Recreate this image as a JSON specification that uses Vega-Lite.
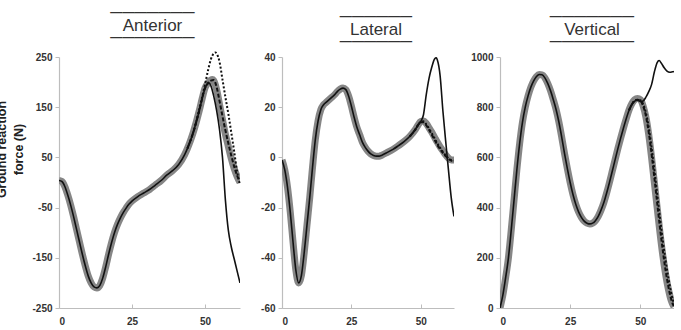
{
  "$schema": "https://vega.github.io/schema/vega-lite/v6.json",
  "padding": {"left": -5, "top": 4, "right": 0, "bottom": 2},
  "spacing": 16,
  "datasets": {
    "ant": [
      {"s":"measured","t":0,"v":4},{"s":"measured","t":1,"v":2},{"s":"measured","t":2,"v":-8},{"s":"measured","t":3,"v":-25},{"s":"measured","t":4,"v":-45},{"s":"measured","t":5,"v":-68},{"s":"measured","t":6,"v":-93},{"s":"measured","t":7,"v":-118},{"s":"measured","t":8,"v":-143},{"s":"measured","t":9,"v":-166},{"s":"measured","t":10,"v":-186},{"s":"measured","t":11,"v":-200},{"s":"measured","t":12,"v":-208},{"s":"measured","t":13,"v":-210},{"s":"measured","t":14,"v":-205},{"s":"measured","t":15,"v":-190},{"s":"measured","t":16,"v":-168},{"s":"measured","t":17,"v":-143},{"s":"measured","t":18,"v":-120},{"s":"measured","t":19,"v":-100},{"s":"measured","t":20,"v":-84},{"s":"measured","t":21,"v":-71},{"s":"measured","t":22,"v":-60},{"s":"measured","t":23,"v":-51},{"s":"measured","t":24,"v":-43},{"s":"measured","t":25,"v":-37},{"s":"measured","t":27,"v":-28},{"s":"measured","t":29,"v":-21},{"s":"measured","t":31,"v":-14},{"s":"measured","t":33,"v":-5},{"s":"measured","t":35,"v":4},{"s":"measured","t":37,"v":15},{"s":"measured","t":39,"v":24},{"s":"measured","t":41,"v":36},{"s":"measured","t":43,"v":55},{"s":"measured","t":44,"v":68},{"s":"measured","t":45,"v":83},{"s":"measured","t":46,"v":100},{"s":"measured","t":47,"v":120},{"s":"measured","t":48,"v":142},{"s":"measured","t":49,"v":166},{"s":"measured","t":50,"v":188},{"s":"measured","t":51,"v":198},{"s":"measured","t":52,"v":204},{"s":"measured","t":52.5,"v":205},{"s":"measured","t":53,"v":203},{"s":"measured","t":54,"v":185},{"s":"measured","t":55,"v":155},{"s":"measured","t":56,"v":125},{"s":"measured","t":57,"v":96},{"s":"measured","t":58,"v":72},{"s":"measured","t":59,"v":48},{"s":"measured","t":60,"v":28},{"s":"measured","t":61,"v":12},{"s":"measured","t":62,"v":0},
      {"s":"solid","t":0,"v":4},{"s":"solid","t":1,"v":2},{"s":"solid","t":2,"v":-8},{"s":"solid","t":3,"v":-25},{"s":"solid","t":4,"v":-45},{"s":"solid","t":5,"v":-68},{"s":"solid","t":6,"v":-93},{"s":"solid","t":7,"v":-118},{"s":"solid","t":8,"v":-143},{"s":"solid","t":9,"v":-166},{"s":"solid","t":10,"v":-186},{"s":"solid","t":11,"v":-200},{"s":"solid","t":12,"v":-208},{"s":"solid","t":13,"v":-210},{"s":"solid","t":14,"v":-205},{"s":"solid","t":15,"v":-190},{"s":"solid","t":16,"v":-168},{"s":"solid","t":17,"v":-143},{"s":"solid","t":18,"v":-120},{"s":"solid","t":19,"v":-100},{"s":"solid","t":20,"v":-84},{"s":"solid","t":21,"v":-71},{"s":"solid","t":22,"v":-60},{"s":"solid","t":23,"v":-51},{"s":"solid","t":24,"v":-43},{"s":"solid","t":25,"v":-37},{"s":"solid","t":27,"v":-28},{"s":"solid","t":29,"v":-21},{"s":"solid","t":31,"v":-14},{"s":"solid","t":33,"v":-5},{"s":"solid","t":35,"v":4},{"s":"solid","t":37,"v":15},{"s":"solid","t":39,"v":24},{"s":"solid","t":41,"v":36},{"s":"solid","t":43,"v":55},{"s":"solid","t":44,"v":68},{"s":"solid","t":45,"v":83},{"s":"solid","t":46,"v":100},{"s":"solid","t":47,"v":120},{"s":"solid","t":48,"v":142},{"s":"solid","t":49,"v":166},{"s":"solid","t":50,"v":187},{"s":"solid","t":51,"v":197},{"s":"solid","t":51.5,"v":198},{"s":"solid","t":52,"v":193},{"s":"solid","t":53,"v":172},{"s":"solid","t":54,"v":143},{"s":"solid","t":55,"v":105},{"s":"solid","t":56,"v":50},{"s":"solid","t":57,"v":-35},{"s":"solid","t":58,"v":-95},{"s":"solid","t":59,"v":-128},{"s":"solid","t":60,"v":-152},{"s":"solid","t":61,"v":-176},{"s":"solid","t":62,"v":-200},
      {"s":"dashed","t":44,"v":68},{"s":"dashed","t":46,"v":100},{"s":"dashed","t":48,"v":142},{"s":"dashed","t":50,"v":188},{"s":"dashed","t":51,"v":198},{"s":"dashed","t":52,"v":203},{"s":"dashed","t":53,"v":204},{"s":"dashed","t":54,"v":190},{"s":"dashed","t":55,"v":162},{"s":"dashed","t":56,"v":132},{"s":"dashed","t":57,"v":104},{"s":"dashed","t":58,"v":78},{"s":"dashed","t":59,"v":54},{"s":"dashed","t":60,"v":32},{"s":"dashed","t":61,"v":14},{"s":"dashed","t":62,"v":2},
      {"s":"dotted","t":44,"v":68},{"s":"dotted","t":46,"v":100},{"s":"dotted","t":48,"v":145},{"s":"dotted","t":50,"v":195},{"s":"dotted","t":51,"v":222},{"s":"dotted","t":52,"v":245},{"s":"dotted","t":53,"v":257},{"s":"dotted","t":53.5,"v":259},{"s":"dotted","t":54,"v":257},{"s":"dotted","t":55,"v":240},{"s":"dotted","t":56,"v":205},{"s":"dotted","t":57,"v":170},{"s":"dotted","t":58,"v":137},{"s":"dotted","t":59,"v":100},{"s":"dotted","t":60,"v":62},{"s":"dotted","t":61,"v":22},{"s":"dotted","t":62,"v":-5}
    ],
    "lat": [
      {"s":"measured","t":0,"v":-1},{"s":"measured","t":1,"v":-5},{"s":"measured","t":2,"v":-12},{"s":"measured","t":3,"v":-22},{"s":"measured","t":4,"v":-34},{"s":"measured","t":5,"v":-45},{"s":"measured","t":6,"v":-50},{"s":"measured","t":7,"v":-47},{"s":"measured","t":8,"v":-38},{"s":"measured","t":9,"v":-27},{"s":"measured","t":10,"v":-16},{"s":"measured","t":11,"v":-4},{"s":"measured","t":12,"v":7},{"s":"measured","t":13,"v":14.5},{"s":"measured","t":14,"v":19},{"s":"measured","t":15,"v":21},{"s":"measured","t":16,"v":22},{"s":"measured","t":17,"v":23},{"s":"measured","t":18,"v":24},{"s":"measured","t":19,"v":25},{"s":"measured","t":20,"v":26.3},{"s":"measured","t":21,"v":27.2},{"s":"measured","t":22,"v":27.6},{"s":"measured","t":23,"v":27},{"s":"measured","t":24,"v":24.5},{"s":"measured","t":25,"v":20.5},{"s":"measured","t":26,"v":16},{"s":"measured","t":27,"v":12},{"s":"measured","t":28,"v":9},{"s":"measured","t":29,"v":6},{"s":"measured","t":30,"v":4},{"s":"measured","t":31,"v":2.5},{"s":"measured","t":32,"v":1.4},{"s":"measured","t":33,"v":0.8},{"s":"measured","t":34,"v":0.5},{"s":"measured","t":35,"v":0.5},{"s":"measured","t":36,"v":0.9},{"s":"measured","t":38,"v":2},{"s":"measured","t":40,"v":3.2},{"s":"measured","t":42,"v":4.7},{"s":"measured","t":44,"v":6.3},{"s":"measured","t":46,"v":8.3},{"s":"measured","t":48,"v":11},{"s":"measured","t":49,"v":12.8},{"s":"measured","t":50,"v":14.3},{"s":"measured","t":51,"v":14.5},{"s":"measured","t":52,"v":13.5},{"s":"measured","t":53,"v":11.8},{"s":"measured","t":54,"v":10},{"s":"measured","t":55,"v":8},{"s":"measured","t":56,"v":6},{"s":"measured","t":57,"v":4.2},{"s":"measured","t":58,"v":2.6},{"s":"measured","t":59,"v":1},{"s":"measured","t":60,"v":-0.3},{"s":"measured","t":61,"v":-1},{"s":"measured","t":62,"v":-1},
      {"s":"solid","t":0,"v":-1},{"s":"solid","t":1,"v":-5},{"s":"solid","t":2,"v":-12},{"s":"solid","t":3,"v":-22},{"s":"solid","t":4,"v":-34},{"s":"solid","t":5,"v":-45},{"s":"solid","t":6,"v":-50},{"s":"solid","t":7,"v":-47},{"s":"solid","t":8,"v":-38},{"s":"solid","t":9,"v":-27},{"s":"solid","t":10,"v":-16},{"s":"solid","t":11,"v":-4},{"s":"solid","t":12,"v":7},{"s":"solid","t":13,"v":14.5},{"s":"solid","t":14,"v":19},{"s":"solid","t":15,"v":21},{"s":"solid","t":16,"v":22},{"s":"solid","t":17,"v":23},{"s":"solid","t":18,"v":24},{"s":"solid","t":19,"v":25},{"s":"solid","t":20,"v":26.3},{"s":"solid","t":21,"v":27.2},{"s":"solid","t":22,"v":27.6},{"s":"solid","t":23,"v":27},{"s":"solid","t":24,"v":24.5},{"s":"solid","t":25,"v":20.5},{"s":"solid","t":26,"v":16},{"s":"solid","t":27,"v":12},{"s":"solid","t":28,"v":9},{"s":"solid","t":29,"v":6},{"s":"solid","t":30,"v":4},{"s":"solid","t":31,"v":2.5},{"s":"solid","t":32,"v":1.4},{"s":"solid","t":33,"v":0.8},{"s":"solid","t":34,"v":0.5},{"s":"solid","t":35,"v":0.5},{"s":"solid","t":36,"v":0.9},{"s":"solid","t":38,"v":2},{"s":"solid","t":40,"v":3.2},{"s":"solid","t":42,"v":4.7},{"s":"solid","t":44,"v":6.3},{"s":"solid","t":46,"v":8.3},{"s":"solid","t":48,"v":11},{"s":"solid","t":49,"v":12.8},{"s":"solid","t":50,"v":14.3},{"s":"solid","t":51,"v":17},{"s":"solid","t":52,"v":25},{"s":"solid","t":53,"v":31.5},{"s":"solid","t":54,"v":36},{"s":"solid","t":55,"v":39.2},{"s":"solid","t":55.6,"v":39.7},{"s":"solid","t":56,"v":38.8},{"s":"solid","t":57,"v":32.5},{"s":"solid","t":58,"v":18.5},{"s":"solid","t":59,"v":6.5},{"s":"solid","t":60,"v":-5},{"s":"solid","t":61,"v":-16},{"s":"solid","t":62,"v":-23.5},
      {"s":"dashed","t":46,"v":8.3},{"s":"dashed","t":48,"v":11},{"s":"dashed","t":50,"v":14},{"s":"dashed","t":51,"v":14},{"s":"dashed","t":52,"v":12.8},{"s":"dashed","t":53,"v":11},{"s":"dashed","t":54,"v":9},{"s":"dashed","t":55,"v":7},{"s":"dashed","t":56,"v":5},{"s":"dashed","t":57,"v":3.3},{"s":"dashed","t":58,"v":1.8},{"s":"dashed","t":59,"v":0.5},{"s":"dashed","t":60,"v":-0.5},{"s":"dashed","t":61,"v":-1.3},{"s":"dashed","t":62,"v":-1.5},
      {"s":"dotted","t":46,"v":8.3},{"s":"dotted","t":48,"v":11},{"s":"dotted","t":50,"v":14.2},{"s":"dotted","t":51,"v":14.4},{"s":"dotted","t":52,"v":13.2},{"s":"dotted","t":53,"v":11.5},{"s":"dotted","t":54,"v":9.6},{"s":"dotted","t":55,"v":7.6},{"s":"dotted","t":56,"v":5.6},{"s":"dotted","t":57,"v":3.8},{"s":"dotted","t":58,"v":2.2},{"s":"dotted","t":59,"v":0.8},{"s":"dotted","t":60,"v":-0.3},{"s":"dotted","t":61,"v":-1},{"s":"dotted","t":62,"v":-1.2}
    ],
    "ver": [
      {"s":"measured","t":0,"v":0},{"s":"measured","t":1,"v":50},{"s":"measured","t":2,"v":120},{"s":"measured","t":3,"v":200},{"s":"measured","t":4,"v":310},{"s":"measured","t":5,"v":430},{"s":"measured","t":6,"v":550},{"s":"measured","t":7,"v":655},{"s":"measured","t":8,"v":740},{"s":"measured","t":9,"v":800},{"s":"measured","t":10,"v":845},{"s":"measured","t":11,"v":880},{"s":"measured","t":12,"v":905},{"s":"measured","t":13,"v":922},{"s":"measured","t":14,"v":930},{"s":"measured","t":15,"v":929},{"s":"measured","t":16,"v":917},{"s":"measured","t":17,"v":895},{"s":"measured","t":18,"v":866},{"s":"measured","t":19,"v":830},{"s":"measured","t":20,"v":790},{"s":"measured","t":21,"v":740},{"s":"measured","t":22,"v":680},{"s":"measured","t":23,"v":615},{"s":"measured","t":24,"v":555},{"s":"measured","t":25,"v":500},{"s":"measured","t":26,"v":452},{"s":"measured","t":27,"v":413},{"s":"measured","t":28,"v":383},{"s":"measured","t":29,"v":361},{"s":"measured","t":30,"v":346},{"s":"measured","t":31,"v":338},{"s":"measured","t":32,"v":335},{"s":"measured","t":33,"v":338},{"s":"measured","t":34,"v":348},{"s":"measured","t":35,"v":365},{"s":"measured","t":36,"v":390},{"s":"measured","t":37,"v":420},{"s":"measured","t":38,"v":458},{"s":"measured","t":39,"v":500},{"s":"measured","t":40,"v":545},{"s":"measured","t":41,"v":590},{"s":"measured","t":42,"v":635},{"s":"measured","t":43,"v":677},{"s":"measured","t":44,"v":717},{"s":"measured","t":45,"v":755},{"s":"measured","t":46,"v":790},{"s":"measured","t":47,"v":815},{"s":"measured","t":48,"v":830},{"s":"measured","t":49,"v":835},{"s":"measured","t":50,"v":830},{"s":"measured","t":51,"v":805},{"s":"measured","t":52,"v":760},{"s":"measured","t":53,"v":690},{"s":"measured","t":54,"v":600},{"s":"measured","t":55,"v":500},{"s":"measured","t":56,"v":400},{"s":"measured","t":57,"v":300},{"s":"measured","t":58,"v":210},{"s":"measured","t":59,"v":135},{"s":"measured","t":60,"v":75},{"s":"measured","t":61,"v":30},{"s":"measured","t":62,"v":5},
      {"s":"solid","t":0,"v":0},{"s":"solid","t":1,"v":50},{"s":"solid","t":2,"v":120},{"s":"solid","t":3,"v":200},{"s":"solid","t":4,"v":310},{"s":"solid","t":5,"v":430},{"s":"solid","t":6,"v":550},{"s":"solid","t":7,"v":655},{"s":"solid","t":8,"v":740},{"s":"solid","t":9,"v":800},{"s":"solid","t":10,"v":845},{"s":"solid","t":11,"v":880},{"s":"solid","t":12,"v":905},{"s":"solid","t":13,"v":922},{"s":"solid","t":14,"v":930},{"s":"solid","t":15,"v":929},{"s":"solid","t":16,"v":917},{"s":"solid","t":17,"v":895},{"s":"solid","t":18,"v":866},{"s":"solid","t":19,"v":830},{"s":"solid","t":20,"v":790},{"s":"solid","t":21,"v":740},{"s":"solid","t":22,"v":680},{"s":"solid","t":23,"v":615},{"s":"solid","t":24,"v":555},{"s":"solid","t":25,"v":500},{"s":"solid","t":26,"v":452},{"s":"solid","t":27,"v":413},{"s":"solid","t":28,"v":383},{"s":"solid","t":29,"v":361},{"s":"solid","t":30,"v":346},{"s":"solid","t":31,"v":338},{"s":"solid","t":32,"v":335},{"s":"solid","t":33,"v":338},{"s":"solid","t":34,"v":348},{"s":"solid","t":35,"v":365},{"s":"solid","t":36,"v":390},{"s":"solid","t":37,"v":420},{"s":"solid","t":38,"v":458},{"s":"solid","t":39,"v":500},{"s":"solid","t":40,"v":545},{"s":"solid","t":41,"v":590},{"s":"solid","t":42,"v":635},{"s":"solid","t":43,"v":677},{"s":"solid","t":44,"v":717},{"s":"solid","t":45,"v":755},{"s":"solid","t":46,"v":788},{"s":"solid","t":47,"v":810},{"s":"solid","t":48,"v":824},{"s":"solid","t":49,"v":828},{"s":"solid","t":50,"v":823},{"s":"solid","t":51,"v":825},{"s":"solid","t":52,"v":840},{"s":"solid","t":53,"v":862},{"s":"solid","t":54,"v":890},{"s":"solid","t":55,"v":940},{"s":"solid","t":56,"v":978},{"s":"solid","t":56.7,"v":986},{"s":"solid","t":57.5,"v":975},{"s":"solid","t":58.5,"v":957},{"s":"solid","t":59.5,"v":944},{"s":"solid","t":60.5,"v":939},{"s":"solid","t":61.5,"v":941},{"s":"solid","t":62,"v":942},
      {"s":"dashed","t":46,"v":788},{"s":"dashed","t":47,"v":812},{"s":"dashed","t":48,"v":826},{"s":"dashed","t":49,"v":830},{"s":"dashed","t":50,"v":826},{"s":"dashed","t":51,"v":805},{"s":"dashed","t":52,"v":765},{"s":"dashed","t":53,"v":700},{"s":"dashed","t":54,"v":615},{"s":"dashed","t":55,"v":520},{"s":"dashed","t":56,"v":420},{"s":"dashed","t":57,"v":320},{"s":"dashed","t":58,"v":230},{"s":"dashed","t":59,"v":150},{"s":"dashed","t":60,"v":85},{"s":"dashed","t":61,"v":35},{"s":"dashed","t":62,"v":5},
      {"s":"dotted","t":46,"v":788},{"s":"dotted","t":47,"v":812},{"s":"dotted","t":48,"v":826},{"s":"dotted","t":49,"v":830},{"s":"dotted","t":50,"v":828},{"s":"dotted","t":51,"v":812},{"s":"dotted","t":52,"v":778},{"s":"dotted","t":53,"v":720},{"s":"dotted","t":54,"v":640},{"s":"dotted","t":55,"v":550},{"s":"dotted","t":56,"v":455},{"s":"dotted","t":57,"v":360},{"s":"dotted","t":58,"v":270},{"s":"dotted","t":59,"v":190},{"s":"dotted","t":60,"v":120},{"s":"dotted","t":61,"v":60},{"s":"dotted","t":62,"v":15}
    ]
  },
  "hconcat": [
    {
      "width": 181, "height": 251,
      "title": {"text": ["───────", "Anterior", "───────"], "dx": 3},
      "data": {"name": "ant"},
      "encoding": {
        "x": {"field": "t", "type": "quantitative", "scale": {"domain": [0, 62], "nice": false}, "axis": {"values": [0, 25, 50], "title": null}},
        "y": {"field": "v", "type": "quantitative", "scale": {"domain": [-250, 250], "nice": false}, "axis": {"values": [-250, -150, -50, 50, 150, 250], "title": ["Ground reaction", "force (N)"], "titleY": 92}}
      },
      "layer": [
        {"transform": [{"filter": "datum.s === 'measured'"}], "mark": {"type": "line", "color": "#868686", "strokeWidth": 7, "interpolate": "monotone", "clip": true}},
        {"transform": [{"filter": "datum.s === 'dotted'"}], "mark": {"type": "line", "color": "#111111", "strokeWidth": 2, "strokeDash": [2, 2], "interpolate": "monotone"}},
        {"transform": [{"filter": "datum.s === 'dashed'"}], "mark": {"type": "line", "color": "#111111", "strokeWidth": 2, "strokeDash": [4, 2], "interpolate": "monotone", "clip": true}},
        {"transform": [{"filter": "datum.s === 'solid'"}], "mark": {"type": "line", "color": "#111111", "strokeWidth": 1.6, "interpolate": "monotone", "clip": true}}
      ]
    },
    {
      "width": 172, "height": 251,
      "title": {"text": ["──────", "Lateral", "──────"], "dx": 8},
      "data": {"name": "lat"},
      "encoding": {
        "x": {"field": "t", "type": "quantitative", "scale": {"domain": [0, 62], "nice": false}, "axis": {"values": [0, 25, 50], "title": null}},
        "y": {"field": "v", "type": "quantitative", "scale": {"domain": [-60, 40], "nice": false}, "axis": {"values": [-60, -40, -20, 0, 20, 40], "title": null}}
      },
      "layer": [
        {"transform": [{"filter": "datum.s === 'measured'"}], "mark": {"type": "line", "color": "#868686", "strokeWidth": 7, "interpolate": "monotone", "clip": true}},
        {"transform": [{"filter": "datum.s === 'dotted'"}], "mark": {"type": "line", "color": "#111111", "strokeWidth": 2, "strokeDash": [2, 2], "interpolate": "monotone", "clip": true}},
        {"transform": [{"filter": "datum.s === 'dashed'"}], "mark": {"type": "line", "color": "#111111", "strokeWidth": 2, "strokeDash": [4, 2], "interpolate": "monotone", "clip": true}},
        {"transform": [{"filter": "datum.s === 'solid'"}], "mark": {"type": "line", "color": "#111111", "strokeWidth": 1.6, "interpolate": "monotone", "clip": true}}
      ]
    },
    {
      "width": 174, "height": 251,
      "title": {"text": ["───────", "Vertical", "───────"], "dx": 5},
      "data": {"name": "ver"},
      "encoding": {
        "x": {"field": "t", "type": "quantitative", "scale": {"domain": [0, 62], "nice": false}, "axis": {"values": [0, 25, 50], "title": null}},
        "y": {"field": "v", "type": "quantitative", "scale": {"domain": [0, 1000], "nice": false}, "axis": {"values": [0, 200, 400, 600, 800, 1000], "title": null}}
      },
      "layer": [
        {"transform": [{"filter": "datum.s === 'measured'"}], "mark": {"type": "line", "color": "#868686", "strokeWidth": 7, "interpolate": "monotone", "clip": true}},
        {"transform": [{"filter": "datum.s === 'dotted'"}], "mark": {"type": "line", "color": "#111111", "strokeWidth": 2, "strokeDash": [2, 2], "interpolate": "monotone", "clip": true}},
        {"transform": [{"filter": "datum.s === 'dashed'"}], "mark": {"type": "line", "color": "#111111", "strokeWidth": 2, "strokeDash": [4, 2], "interpolate": "monotone", "clip": true}},
        {"transform": [{"filter": "datum.s === 'solid'"}], "mark": {"type": "line", "color": "#111111", "strokeWidth": 1.6, "interpolate": "monotone", "clip": true}}
      ]
    }
  ],
  "config": {
    "view": {"stroke": null},
    "font": "Liberation Sans",
    "title": {"font": "Liberation Sans", "fontSize": 17, "fontWeight": "normal", "color": "#333333", "lineHeight": 12.5, "anchor": "middle", "frame": "group", "offset": 1},
    "axis": {"grid": false, "domainColor": "#bdbdbd", "tickColor": "#bdbdbd", "domainWidth": 1.2, "labelFont": "Liberation Sans", "labelFontWeight": "bold", "labelFontSize": 10, "labelColor": "#333333", "labelExpr": "'' + datum.value", "titleFont": "Liberation Sans", "titleFontWeight": "bold", "titleFontSize": 12.5, "titleColor": "#222222", "titleLineHeight": 17},
    "axisX": {"tickSize": -4, "labelPadding": 12},
    "axisY": {"tickSize": 4, "labelPadding": 3, "titlePadding": 6}
  }
}
